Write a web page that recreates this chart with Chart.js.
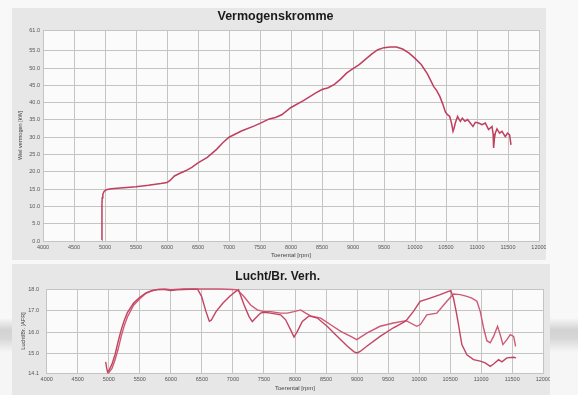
<!DOCTYPE html>
<html>
<head>
<meta charset="utf-8">
<script src="https://cdn.jsdelivr.net/npm/chart.js@4"></script>
<style>
  html, body { margin: 0; padding: 0; }
  body { width: 578px; height: 395px; position: relative; overflow: hidden;
    background: linear-gradient(to bottom, #f8f8f8 0px, #f8f8f8 318px, #d2d2d2 330px, #d6d6d6 338px, #f6f6f6 352px, #f6f6f6 395px);
    font-family: "Liberation Sans", Arial, sans-serif; }
  .panel { position: absolute; background: #e7e7e7; }
  #p1 { left: 12px; top: 8px; width: 534px; height: 252px; }
  #p2 { left: 12px; top: 264px; width: 538px; height: 131px; }
  canvas { display: block; }
</style>
</head>
<body>
<div class="panel" id="p1"><canvas id="c1" width="534" height="252"></canvas></div>
<div class="panel" id="p2"><canvas id="c2" width="538" height="131"></canvas></div>
<script>
// ---------- data ----------
const rpmTicks = [4000,4500,5000,5500,6000,6500,7000,7500,8000,8500,9000,9500,10000,10500,11000,11500,12000];
const powerTicks = [0,5,10,15,20,25,30,35,40,45,50,55,61];
const afrTicks = [14.1,15,16,17,18];

const powerRpm = [4950,4951,4955,4965,4985,5020,5100,5300,5500,5700,5900,6000,6050,6120,6200,6300,6400,6500,6650,6800,6900,7000,7200,7400,7500,7650,7750,7850,8000,8200,8400,8500,8600,8700,8800,8900,9000,9100,9200,9300,9400,9500,9600,9700,9800,9900,10000,10100,10200,10250,10300,10350,10400,10450,10490,10520,10560,10590,10613,10630,10650,10687,10710,10731,10763,10806,10848,10892,10935,10973,11026,11081,11134,11187,11242,11260,11268,11280,11295,11322,11364,11403,11456,11494,11526,11548];
const powerKw = [0.3,10.8,12.5,13.5,14.3,14.8,15.1,15.4,15.7,16.1,16.6,16.9,17.5,18.8,19.5,20.3,21.3,22.6,24.2,26.5,28.4,30.0,31.8,33.2,34.0,35.3,35.7,36.5,38.6,40.6,42.8,43.8,44.3,45.3,46.8,48.6,49.8,51.0,52.5,54.0,55.3,55.9,56.1,56.1,55.5,54.4,52.8,51.0,48.3,46.5,44.7,43.5,41.8,39.5,37.3,36.6,36.0,34.0,31.7,32.6,34.1,36.0,35.2,34.6,35.5,34.6,35.1,34.1,33.1,34.3,34.1,33.6,34.1,32.2,33.1,31.0,26.9,29.5,31.2,32.4,31.2,31.7,30.2,31.2,30.7,27.8];

const afrRpmA = [4950,4965,4980,5000,5050,5100,5150,5200,5250,5300,5400,5500,5600,5700,5800,5900,6000,6100,6200,6300,6430,6495,6565,6620,6650,6730,6840,6950,7050,7090,7180,7260,7312,7366,7446,7500,7608,7769,7849,7930,7984,8038,8118,8226,8360,8522,8683,8844,8952,9000,9050,9156,9371,9586,9747,9790,9908,10016,10177,10338,10473,10510,10553,10596,10634,10688,10769,10876,10984,11064,11145,11199,11280,11333,11414,11522,11560];
const afrA = [14.62,14.35,14.15,14.2,14.5,14.95,15.55,16.1,16.55,16.9,17.35,17.62,17.82,17.93,17.98,17.97,17.93,17.96,17.98,17.99,17.99,17.66,16.96,16.5,16.55,16.96,17.35,17.66,17.9,17.96,17.26,16.72,16.49,16.65,16.88,16.92,16.88,16.8,16.57,16.1,15.77,16.03,16.49,16.75,16.65,16.26,15.8,15.34,15.08,15.03,15.1,15.34,15.8,16.2,16.45,16.53,16.96,17.43,17.58,17.74,17.89,17.92,17.58,16.96,16.35,15.42,14.95,14.72,14.65,14.57,14.41,14.52,14.72,14.62,14.8,14.83,14.8];

const afrRpmB = [4975,5000,5050,5100,5150,5200,5250,5300,5400,5500,5600,5700,5800,5900,6000,6200,6500,6800,7000,7070,7177,7285,7392,7500,7608,7769,7876,7984,8091,8172,8253,8414,8575,8737,8898,8995,9156,9371,9586,9790,9962,10020,10123,10285,10446,10554,10661,10769,10849,10930,10984,11038,11091,11145,11199,11263,11306,11349,11414,11468,11522,11554];
const afrB = [14.1,14.12,14.3,14.7,15.2,15.8,16.3,16.7,17.25,17.55,17.8,17.92,17.98,18.0,17.97,18.0,18.0,18.0,17.98,17.96,17.65,17.26,17.03,16.95,16.95,16.88,16.88,16.95,17.03,16.88,16.75,16.65,16.34,16.03,15.8,15.65,15.95,16.27,16.42,16.53,16.27,16.35,16.8,16.88,17.43,17.77,17.74,17.66,17.58,17.43,16.96,16.19,15.6,15.5,15.8,16.27,15.88,15.42,15.65,15.88,15.8,15.34];

// ---------- helpers ----------
const pts = (xs, ys) => xs.map((x, i) => ({x: x, y: ys[i]}));
const FONT = "'Liberation Sans', Arial, sans-serif";
const tickFont = {family: FONT, size: 5.5};
const gridColor = '#c4c4c4';

const plotBg = {
  id: 'plotBg',
  beforeDraw(chart) {
    const a = chart.chartArea, c = chart.ctx;
    c.save(); c.fillStyle = '#fbfbfb';
    c.fillRect(a.left, a.top, a.right - a.left, a.bottom - a.top);
    c.restore();
  }
};

function makeChart(id, datasets, cfg) {
  return new Chart(document.getElementById(id), {
    type: 'scatter',
    data: { datasets: datasets },
    plugins: [plotBg],
    options: {
      animation: false, responsive: false, devicePixelRatio: 1,
      layout: { padding: { left: 0, right: cfg.padRight, top: 0, bottom: 0 } },
      plugins: {
        legend: { display: false }, tooltip: { enabled: false },
        title: { display: true, text: cfg.title, color: '#1a1a1a',
          font: { family: FONT, size: cfg.titleSize, weight: 'bold', lineHeight: 1.2 },
          padding: cfg.titlePad }
      },
      scales: {
        x: {
          type: 'linear', min: 4000, max: 12000,
          afterBuildTicks: s => { s.ticks = rpmTicks.map(v => ({value: v})); },
          afterFit: s => { s.height = cfg.xHeight; s.paddingLeft = 0; s.paddingRight = 0; },
          ticks: { font: tickFont, color: '#555', padding: cfg.xTickPad, maxRotation: 0, autoSkip: false,
                   callback: v => String(v) },
          grid: { color: gridColor, drawTicks: false, lineWidth: 1 },
          border: { color: gridColor },
          title: { display: true, text: 'Toerental [rpm]', color: '#444',
                   font: { family: FONT, size: 6, lineHeight: 1.2 }, padding: { top: 0, bottom: cfg.xTitlePad } }
        },
        y: {
          type: 'linear', min: cfg.yMin, max: cfg.yMax,
          afterBuildTicks: s => { s.ticks = cfg.yTicks.map(v => ({value: v})); },
          afterFit: s => { s.width = cfg.yWidth; s.paddingTop = 0; s.paddingBottom = 0; },
          ticks: { font: tickFont, color: '#555', padding: cfg.yTickPad, autoSkip: false,
                   callback: v => Number(v).toFixed(1) },
          grid: { color: gridColor, drawTicks: false, lineWidth: 1 },
          border: { color: gridColor },
          title: { display: true, text: cfg.yTitle, color: '#444',
                   font: { family: FONT, size: 5.5, lineHeight: 1.2 }, padding: { top: cfg.yTitlePad, bottom: 0 } }
        }
      }
    }
  });
}

const lineStyle = (color, w) => ({ showLine: true, borderColor: color, borderWidth: w, pointRadius: 0,
  tension: 0, fill: false, clip: 4 });

makeChart('c1', [
  Object.assign({ label: 'Wiel vermogen', data: pts(powerRpm, powerKw) }, lineStyle('#bf3f5f', 1.5))
], {
  title: 'Vermogenskromme', titleSize: 12.5, titlePad: { top: 1, bottom: 6 },
  padRight: 7, xHeight: 19, xTickPad: 3, xTitlePad: 1.4,
  yMin: 0, yMax: 61, yTicks: powerTicks, yWidth: 31, yTickPad: 3,
  yTitle: 'Wiel vermogen [kW]', yTitlePad: 5.2
});

makeChart('c2', [
  Object.assign({ label: 'Run 1', data: pts(afrRpmA, afrA) }, lineStyle('#c24462', 1.4)),
  Object.assign({ label: 'Run 2', data: pts(afrRpmB, afrB) }, lineStyle('#cf5874', 1.4))
], {
  title: 'Lucht/Br. Verh.', titleSize: 12, titlePad: { top: 5.5, bottom: 5.1 },
  padRight: 6.7, xHeight: 22, xTickPad: 3, xTitlePad: 3.1,
  yMin: 14.1, yMax: 18.0, yTicks: afrTicks, yWidth: 34.7, yTickPad: 7.7,
  yTitle: 'Lucht/Br. [AFR]', yTitlePad: 7.7
});
</script>
</body>
</html>
